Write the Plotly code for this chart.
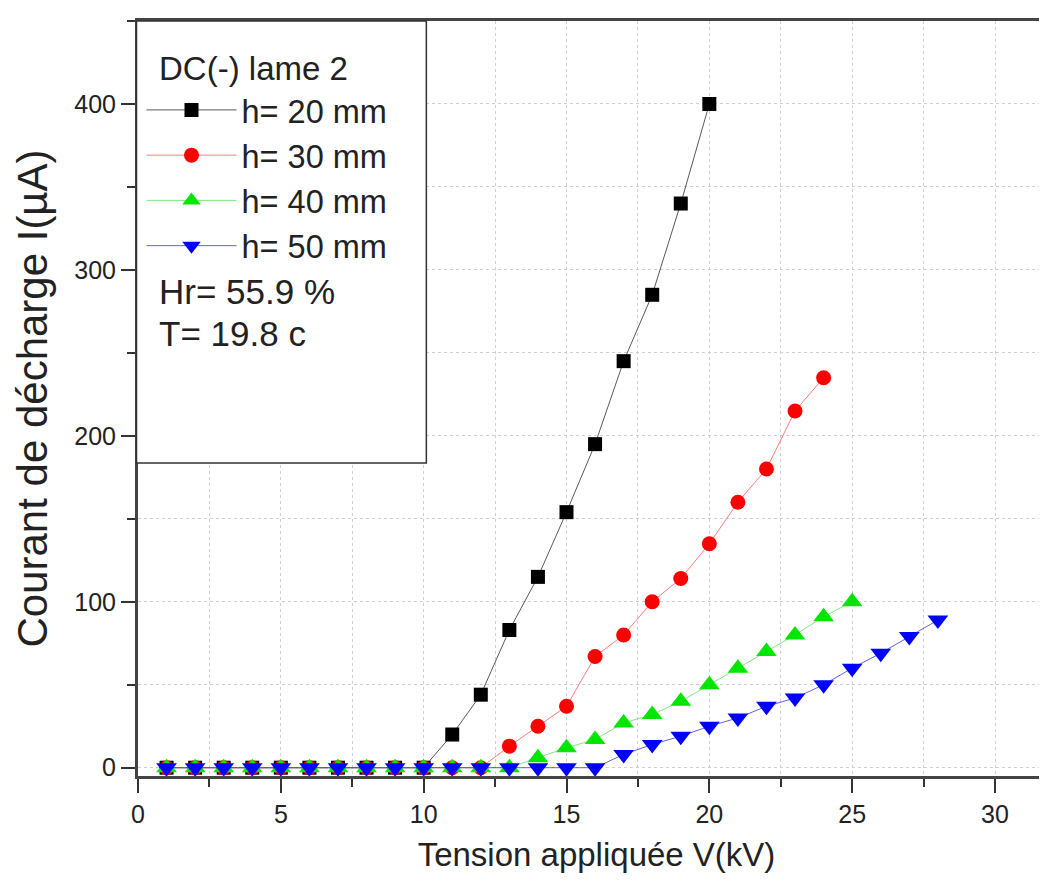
import plotly.graph_objects as go

# Data
voltage_20 = list(range(1, 21))
current_20 = [0, 0, 0, 0, 0, 0, 0, 0, 0, 0, 20, 44, 83, 115, 154, 195, 245, 285, 340, 400]

voltage_30 = list(range(1, 25))
current_30 = [0, 0, 0, 0, 0, 0, 0, 0, 0, 0, 0, 0, 13, 25, 37, 67, 80, 100, 114, 135, 160, 180, 215, 235]

voltage_40 = list(range(1, 26))
current_40 = [0, 0, 0, 0, 0, 0, 0, 0, 0, 0, 0, 0, 0, 6, 12, 17, 27, 32, 40, 50, 60, 70, 80, 91, 100]

voltage_50 = list(range(1, 29))
current_50 = [0, 0, 0, 0, 0, 0, 0, 0, 0, 0, 0, 0, 0, 0, 0, 0, 8, 14, 19, 25, 30, 37, 42, 50, 60, 69, 79, 89]

series_names = ["h= 20 mm", "h= 30 mm", "h= 40 mm", "h= 50 mm"]
legend_title = "DC(-) lame 2"
notes = ["Hr= 55.9 %", "T= 19.8 c"]
x_title = "Tension appliquée V(kV)"
y_title = "Courant de décharge I(µA)"

FONT = "Liberation Sans, Arial, sans-serif"
TXT = "#222222"

W, H = 1047, 884
ML, MR, MT, MB = 129.5, 0, 12.7, 116
PW = W - ML - MR
PH = H - MT - MB


def px_x(p):
    return (p - ML) / PW


def px_y(p):
    return (H - MB - p) / PH


fig = go.Figure()

styles = [
    dict(symbol="square", color="#000000", line="rgba(60,60,60,0.85)", size=14),
    dict(symbol="circle", color="#ff0000", line="rgba(255,80,80,0.75)", size=15),
    dict(symbol="triangle-up", color="#00e600", line="rgba(80,220,80,0.7)", size=18),
    dict(symbol="triangle-down", color="#0000ff", line="rgba(60,60,220,0.8)", size=18),
]
data = [(voltage_20, current_20), (voltage_30, current_30),
        (voltage_40, current_40), (voltage_50, current_50)]

for (xs, ys), name, st in zip(data, series_names, styles):
    fig.add_trace(go.Scatter(
        x=xs, y=ys, name=name, mode="lines+markers",
        line=dict(color=st["line"], width=1),
        marker=dict(symbol=st["symbol"], color=st["color"], size=st["size"],
                    line=dict(width=0)),
        cliponaxis=False,
    ))

# legend box (white, bordered)
fig.add_shape(type="rect", xref="paper", yref="paper",
              x0=px_x(128), x1=px_x(418), y0=px_y(455), y1=1,
              line=dict(color="#333333", width=1.5), fillcolor="white",
              layer="above")

fig.add_annotation(text=legend_title, xref="paper", yref="paper",
                   x=px_x(149), y=px_y(60), xanchor="left", yanchor="middle",
                   showarrow=False, font=dict(family=FONT, size=33, color=TXT))

for i, t in enumerate(notes):
    fig.add_annotation(text=t, xref="paper", yref="paper",
                       x=px_x(149), y=px_y(283 + 42 * i),
                       xanchor="left", yanchor="middle", showarrow=False,
                       font=dict(family=FONT, size=35, color=TXT))

grid = dict(showgrid=True, gridcolor="#cfcfcf", griddash="dot", gridwidth=1)

fig.update_layout(
    width=W, height=H,
    margin=dict(l=ML, r=MR, t=MT, b=MB, pad=0),
    plot_bgcolor="white", paper_bgcolor="white",
    font=dict(family=FONT, color=TXT),
    showlegend=True,
    legend=dict(
        font=dict(family=FONT, size=32.5, color=TXT),
        x=px_x(133), y=px_y(74), xanchor="left", yanchor="top",
        bgcolor="rgba(0,0,0,0)", borderwidth=0,
        tracegroupgap=0, itemsizing="trace", itemwidth=90,
    ),
    xaxis=dict(
        range=[0, 32.1], dtick=5, tick0=0,
        ticks="outside", ticklen=14, tickwidth=2, tickcolor="#333333",
        showline=True, linecolor="#444444", linewidth=3, mirror=True,
        zeroline=False,
        tickfont=dict(family=FONT, size=25, color=TXT),
        title=dict(text=x_title, font=dict(family=FONT, size=33, color=TXT), standoff=16),
        minor=dict(dtick=2.5, ticks="outside", ticklen=8, tickwidth=2,
                   tickcolor="#333333", **grid),
        **grid,
    ),
    yaxis=dict(
        range=[-5, 450], dtick=100, tick0=0,
        ticks="outside", ticklen=14, tickwidth=2, tickcolor="#333333",
        showline=True, linecolor="#444444", linewidth=3, mirror=False,
        zeroline=False,
        tickfont=dict(family=FONT, size=25, color=TXT),
        title=dict(text=y_title, font=dict(family=FONT, size=42, color=TXT), standoff=14),
        minor=dict(dtick=50, ticks="outside", ticklen=8, tickwidth=2,
                   tickcolor="#333333", **grid),
        **grid,
    ),
)

fig.write_html("out.html")
